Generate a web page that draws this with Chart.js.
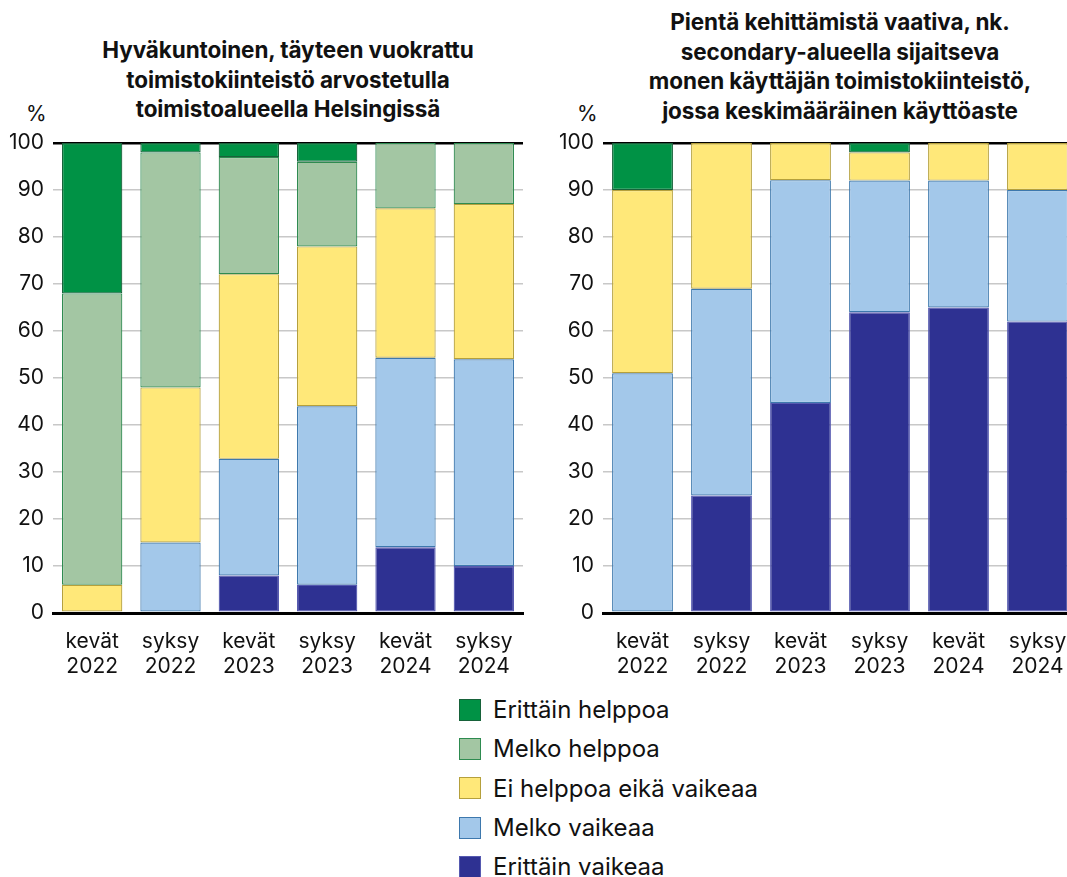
<!DOCTYPE html>
<html lang="fi">
<head>
<meta charset="utf-8">
<script src="https://cdn.jsdelivr.net/npm/chart.js@4.4.1/dist/chart.umd.min.js"></script>
<style>
  html, body { margin: 0; padding: 0; background: #fff; overflow: hidden; }
  body { width: 1067px; height: 877px; position: relative; font-family: Inter, "Noto Sans", sans-serif; color: #111; }
  .title { position: absolute; text-align: center; font-weight: 700; font-size: 22.5px; line-height: 29.5px; letter-spacing: -0.1px; }
  .pct { position: absolute; font-size: 21px; top: 101px; }
  canvas { position: absolute; }
  #legend { position: absolute; left: 459px; top: 690px; font-size: 24px; }
  .row { display: flex; align-items: center; height: 39.3px; }
  .box { width: 20px; height: 20px; margin-right: 12px; border: 1.5px solid; }
</style>
</head>
<body>
<div class="title" style="left:0;width:576px;top:35px">Hyväkuntoinen, täyteen vuokrattu<br>toimistokiinteistö arvostetulla<br>toimistoalueella Helsingissä</div>
<div class="title" style="left:590px;width:500px;top:7px">Pientä kehittämistä vaativa, nk.<br>secondary-alueella sijaitseva<br>monen käyttäjän toimistokiinteistö,<br>jossa keskimääräinen käyttöaste</div>
<div class="pct" style="left:26px">%</div>
<div class="pct" style="left:577px">%</div>
<canvas id="left" width="530" height="563" style="left:0;top:120px"></canvas>
<canvas id="right" width="534" height="563" style="left:550px;top:120px"></canvas>
<div id="legend"></div>
<script>
// kyselykierrokset
const categories = [['kevät', '2022'], ['syksy', '2022'], ['kevät', '2023'], ['syksy', '2023'], ['kevät', '2024'], ['syksy', '2024']];
const seriesNames = ['Erittäin vaikeaa', 'Melko vaikeaa', 'Ei helppoa eikä vaikeaa', 'Melko helppoa', 'Erittäin helppoa'];
const fills = ['#2e3192', '#a3c8ea', '#ffe879', '#a3c6a3', '#009245'];
const borders = ['#5559b0', '#3d78ad', '#b5a03c', '#2e8b50', '#17623a'];
const yTicks = [0, 10, 20, 30, 40, 50, 60, 70, 80, 90, 100];

// Helsinki, prime-kohde (%)
const primeErittainVaikeaa = [0, 0, 8, 6, 14, 10];
const primeMelkoVaikeaa = [0, 15, 24.8, 38, 40.3, 44];
const primeEiHelppoaEikaVaikeaa = [6, 33, 39.3, 34, 31.8, 33];
const primeMelkoHelppoa = [62, 50, 24.9, 18, 13.9, 13];
const primeErittainHelppoa = [32, 2, 3, 4, 0, 0];

// secondary-kohde (%)
const secErittainVaikeaa = [0, 25, 44.7, 64, 65, 62];
const secMelkoVaikeaa = [51, 44, 47.4, 28, 27, 28];
const secEiHelppoaEikaVaikeaa = [39, 31, 7.9, 6, 8, 10];
const secMelkoHelppoa = [0, 0, 0, 0, 0, 0];
const secErittainHelppoa = [10, 0, 0, 2, 0, 0];

const font = { family: 'Inter, "Noto Sans", sans-serif', size: 21 };

function makeChart(id, series) {
  const datasets = series.map((vals, i) => ({
    label: seriesNames[i],
    data: vals.map(v => (v === 0 ? null : v)),
    backgroundColor: fills[i],
    borderColor: borders[i],
    borderWidth: 1.2,
    borderSkipped: false,
    categoryPercentage: 1,
    barPercentage: 0.77
  }));
  return new Chart(document.getElementById(id), {
    type: 'bar',
    data: { labels: categories, datasets },
    options: {
      responsive: false,
      animation: false,
      layout: { padding: { top: 23, right: 7, left: 0, bottom: 0 } },
      plugins: { legend: { display: false }, tooltip: { enabled: false }, title: { display: false } },
      scales: {
        x: {
          stacked: true,
          grid: { display: false },
          border: { color: '#000', width: 3 },
          ticks: { color: '#111', font, padding: 8 },
          afterFit(scale) { scale.height = 70; }
        },
        y: {
          stacked: true,
          min: 0,
          max: 100,
          afterBuildTicks(scale) { scale.ticks = yTicks.map(v => ({ value: v })); },
          border: { display: false },
          grid: {
            drawTicks: false,
            color: c => (c.tick.value === 100 || c.tick.value === 0 ? '#000' : '#c8c8c8'),
            lineWidth: c => (c.tick.value === 100 ? 2.5 : c.tick.value === 0 ? 3 : 1.5)
          },
          ticks: { color: '#111', font, padding: 9 },
          afterFit(scale) { scale.width = 53; }
        }
      }
    }
  });
}

makeChart('left', [primeErittainVaikeaa, primeMelkoVaikeaa, primeEiHelppoaEikaVaikeaa, primeMelkoHelppoa, primeErittainHelppoa]);
makeChart('right', [secErittainVaikeaa, secMelkoVaikeaa, secEiHelppoaEikaVaikeaa, secMelkoHelppoa, secErittainHelppoa]);

// selite, ylhäältä alas
const legend = document.getElementById('legend');
for (let i = seriesNames.length - 1; i >= 0; i--) {
  const row = document.createElement('div');
  row.className = 'row';
  row.innerHTML = '<span class="box" style="background:' + fills[i] + ';border-color:' + borders[i] + '"></span>' + seriesNames[i];
  legend.appendChild(row);
}
</script>
</body>
</html>
